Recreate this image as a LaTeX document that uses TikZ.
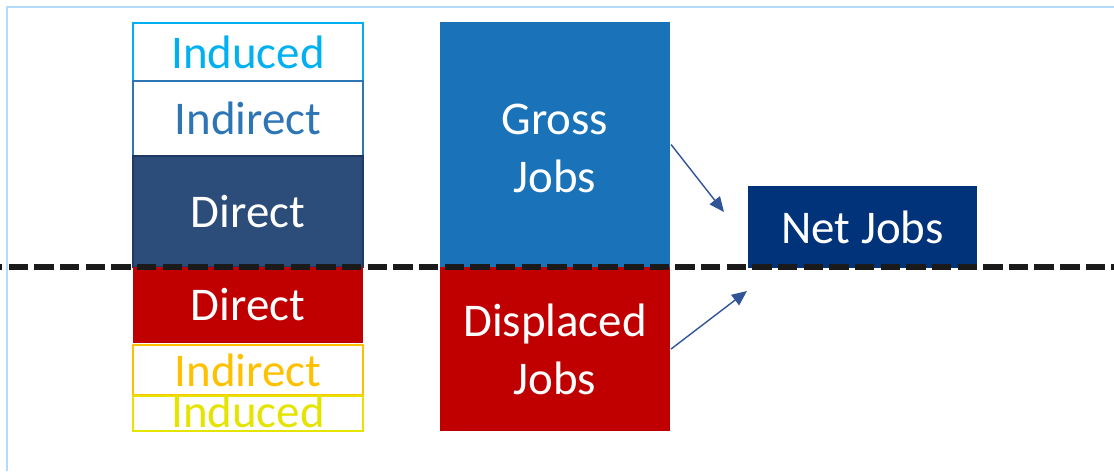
\documentclass[tikz,border=0pt]{standalone}
\usepackage{fontspec}
\setmainfont{Carlito}
\usepackage{tikz}
\usetikzlibrary{arrows,arrows.meta,positioning}
\definecolor{inducedtop}{RGB}{0,176,240}
\definecolor{indirecttop}{RGB}{46,117,182}
\definecolor{directtop}{RGB}{44,77,122}
\definecolor{directedge}{RGB}{31,56,100}
\definecolor{lossred}{RGB}{192,0,0}
\definecolor{indirectlow}{RGB}{255,192,0}
\definecolor{inducedlow}{RGB}{228,228,0}
\definecolor{grossblue}{RGB}{26,115,185}
\definecolor{netblue}{RGB}{0,51,122}
\definecolor{arrowblue}{RGB}{47,85,151}
\definecolor{framelight}{RGB}{180,220,250}
\definecolor{dashblack}{RGB}{26,26,26}

\begin{document}
\begin{tikzpicture}[x=0.02cm, y=-0.02cm, font=\fontsize{26.7}{33}\selectfont, line width=1.2pt]
   \useasboundingbox (0,0) rectangle (1114,471);
   \draw[framelight, line width=1.5pt] (7,471) -- (7,7) -- (1114,7);
   % left column: job effects above and below the line
   \begin{scope}[every node/.style={rectangle, inner sep=0pt, minimum width=4.6cm}]
    \node (induced1) [draw=inducedtop, text=inducedtop, minimum height=1.16cm] at (248,52) {Induced};
    \node (indirect1) [draw=indirecttop, text=indirecttop, minimum height=1.5cm] at (248,118.5) {Indirect};
    \node (direct1) [draw=directedge, fill=directtop, text=white, minimum height=2.22cm] at (248,211.5) {Direct};
    \node (direct2) [fill=lossred, text=white, minimum height=1.52cm] at (248,305) {Direct};
    \node (indirect2) [draw=indirectlow, text=indirectlow, minimum height=1cm] at (248,370) {Indirect};
    \node (induced2) [draw=inducedlow, text=inducedlow, line width=1.6pt, minimum height=0.7cm] at (248,413.5) {\raisebox{-0.28cm}[0pt][0pt]{Induced}};
   \end{scope}
   % middle column and result
   \begin{scope}[every node/.style={rectangle, inner sep=0pt, text=white, align=center}]
    \node (gross) [fill=grossblue, minimum width=4.6cm, minimum height=4.9cm] at (555,144.5) {\rule{0pt}{0.78cm}Gross\\Jobs};
    \node (displaced) [fill=lossred, minimum width=4.6cm, minimum height=3.28cm] at (555,349) {Displaced\\Jobs};
    \node (net) [fill=netblue, minimum width=4.58cm, minimum height=1.64cm] at (862.5,227) {Net Jobs};
   \end{scope}
   \draw[dashblack, line width=0.12cm, dash pattern=on 0.388cm off 0.125cm, dash phase=0.34cm] (0,267) -- (1114,267);
   \coordinate (tipgross) at ([shift={(-23,-15)}]net.west);
   \coordinate (tipdisplaced) at ([shift={(0,64)}]net.west);
   \begin{scope}[-{Triangle[length=0.3cm,width=0.26cm]}, arrowblue, line width=0.8pt]
    \draw (gross.east) -- (tipgross);
    \draw (displaced.east) -- (tipdisplaced);
   \end{scope}
\end{tikzpicture}
\end{document}
